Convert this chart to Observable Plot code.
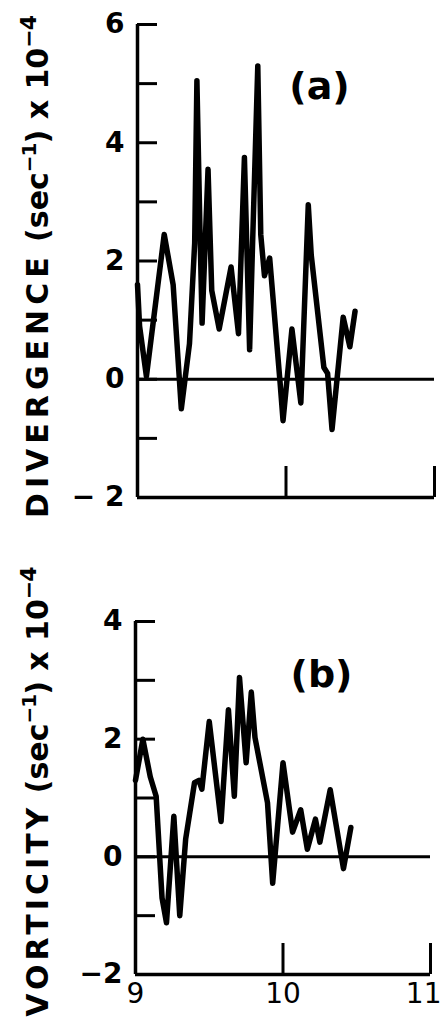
<!DOCTYPE html>
<html>
<head>
<meta charset="utf-8">
<script src="https://cdn.jsdelivr.net/npm/d3@7"></script>
<script src="https://cdn.jsdelivr.net/npm/@observablehq/plot@0.6"></script>
<style>
  html, body { margin: 0; padding: 0; background: #fff; }
  #wrap { position: relative; width: 442px; height: 1019px; overflow: hidden; background: #fff; }
  #wrap svg { position: absolute; left: 0; overflow: visible; }
</style>
</head>
<body>
<div id="wrap"></div>
<script>
// ---- Data ----
const divX = [9.00, 9.014, 9.06, 9.18, 9.24, 9.295, 9.35, 9.385, 9.40, 9.42, 9.435, 9.475, 9.50, 9.55, 9.63, 9.68, 9.72, 9.755, 9.775, 9.81, 9.83, 9.855, 9.89, 9.96, 9.98, 10.04, 10.10, 10.15, 10.17, 10.255, 10.28, 10.31, 10.385, 10.43, 10.465];
const divY = [1.6, 0.9, 0.05, 2.45, 1.6, -0.5, 0.6, 2.3, 5.05, 2.6, 0.95, 3.55, 1.5, 0.85, 1.9, 0.77, 3.75, 0.5, 2.3, 5.3, 2.45, 1.75, 2.05, -0.05, -0.7, 0.85, -0.4, 2.95, 2.1, 0.2, 0.1, -0.85, 1.05, 0.55, 1.15];

const vorX = [9.0, 9.05, 9.10, 9.14, 9.18, 9.21, 9.26, 9.30, 9.34, 9.40, 9.43, 9.45, 9.50, 9.58, 9.63, 9.67, 9.705, 9.75, 9.785, 9.81, 9.895, 9.93, 10.0, 10.065, 10.12, 10.165, 10.22, 10.25, 10.32, 10.41, 10.46];
const vorY = [1.3, 2.0, 1.36, 1.03, -0.7, -1.12, 0.69, -1.0, 0.3, 1.26, 1.3, 1.15, 2.3, 0.6, 2.5, 1.03, 3.05, 1.6, 2.8, 2.03, 0.92, -0.45, 1.6, 0.42, 0.8, 0.13, 0.64, 0.25, 1.14, -0.2, 0.5];

const xTickLabelsMid = [9, 10];
const xTickLabelsEnd = [11];
const xUpTicks = [10, 11];
const divMinorTicks = [-1, 0, 1, 2, 3, 4, 5, 6];
const divLabelTicks = [6, 4, 2, 0, -2];
const vorMinorTicks = [-1, 0, 1, 2, 3, 4];
const vorLabelTicks = [4, 2, 0, -2];
const divTitleWord = "DIVERGENCE";
const vorTitleWord = "VORTICITY";
const unitParts = [" (sec", "−1", ") x 10", "−4"];
const panelLabels = ["(a)", "(b)"];

const divData = divX.map((x, i) => ({x, y: divY[i]}));
const vorData = vorX.map((x, i) => ({x, y: vorY[i]}));

const FONT = "DejaVu Sans, sans-serif";
const INK = "#000";

function panel({data, yDomain, minor, labels, word, wordSpacing, tag, height, mt, mb, ml, mr, showX, titleDx, titleDy, tagDx, tagDy, negFmt}) {
  const frameW = 442 - ml - mr;
  const frameH = height - mt - mb;
  const titleKey = word + unitParts.join("");
  const marks = [
    Plot.ruleX([9], {stroke: INK, strokeWidth: 3.5}),
    Plot.ruleY([yDomain[0]], {stroke: INK, strokeWidth: 3.5}),
    Plot.ruleY([0], {stroke: INK, strokeWidth: 3}),
    Plot.ruleY(minor, {stroke: INK, strokeWidth: 3, insetRight: frameW - 20}),
    Plot.ruleX(xUpTicks, {stroke: INK, strokeWidth: 3, insetTop: frameH - 31}),
    Plot.axisY(labels, {tickSize: 0, tickPadding: 13, fontSize: 28, fontWeight: "bold", fontFamily: FONT, fill: INK, label: null,
      tickFormat: d => d < 0 ? negFmt + Math.abs(d) : String(d)}),
    Plot.line(data, {x: "x", y: "y", stroke: INK, strokeWidth: 5.5, strokeLinejoin: "round", strokeLinecap: "round"}),
    Plot.text([tag], {frameAnchor: "top-left", dx: tagDx, dy: tagDy, text: d => d, fontSize: 38, fontWeight: "bold", fontFamily: FONT, fill: INK, textAnchor: "middle", lineAnchor: "middle"}),
    Plot.text([titleKey], {frameAnchor: "left", dx: titleDx, dy: titleDy, rotate: -90, text: d => d, fontSize: 30, fontWeight: "bold", fontFamily: FONT, fill: INK, textAnchor: "middle", lineAnchor: "middle"})
  ];
  if (showX) {
    marks.push(Plot.axisX(xTickLabelsMid, {tickSize: 0, tickPadding: 9, fontSize: 28, fontFamily: FONT, fill: INK, label: null, tickFormat: d => String(d)}));
    marks.push(Plot.axisX(xTickLabelsEnd, {tickSize: 0, tickPadding: 9, fontSize: 28, fontFamily: FONT, fill: INK, label: null, tickFormat: d => String(d), textAnchor: "end", dx: 11, style: "letter-spacing: -3px"}));
  }
  const svg = Plot.plot({
    width: 442,
    height,
    marginTop: mt, marginBottom: mb, marginLeft: ml, marginRight: mr,
    x: {domain: [9, 11], axis: null},
    y: {domain: yDomain, axis: null},
    style: {background: "transparent", overflow: "visible"},
    marks
  });
  // Rebuild the rotated title with real superscripts
  d3.select(svg).selectAll("text").filter(function () { return this.textContent === titleKey; }).each(function () {
    const t = d3.select(this);
    t.text(null);
    t.append("tspan").attr("letter-spacing", wordSpacing + "px").text(word);
    t.append("tspan").text(unitParts[0]);
    t.append("tspan").attr("font-size", 20).attr("dy", -12).attr("letter-spacing", "-1px").text(unitParts[1]);
    t.append("tspan").attr("dy", 12).text(unitParts[2]);
    t.append("tspan").attr("font-size", 22).attr("dy", -12).attr("letter-spacing", "-1px").text(unitParts[3]);
  });
  return svg;
}

const topPanel = panel({data: divData, yDomain: [-2, 6], minor: divMinorTicks, labels: divLabelTicks, word: divTitleWord, wordSpacing: 5, tag: panelLabels[0],
  height: 530, mt: 24, mb: 33, ml: 137, mr: 8, showX: false, titleDx: -99, titleDy: 6, tagDx: 182, tagDy: 62, negFmt: "− "});
const bottomPanel = panel({data: vorData, yDomain: [-2, 4], minor: vorMinorTicks, labels: vorLabelTicks, word: vorTitleWord, wordSpacing: 4, tag: panelLabels[1],
  height: 489, mt: 91, mb: 45, ml: 135, mr: 12, showX: true, titleDx: -97, titleDy: -6, tagDx: 186, tagDy: 53, negFmt: "−"});

topPanel.style.top = "0px";
bottomPanel.style.top = "530px";
const wrap = document.getElementById("wrap");
wrap.appendChild(topPanel);
wrap.appendChild(bottomPanel);
</script>
</body>
</html>
